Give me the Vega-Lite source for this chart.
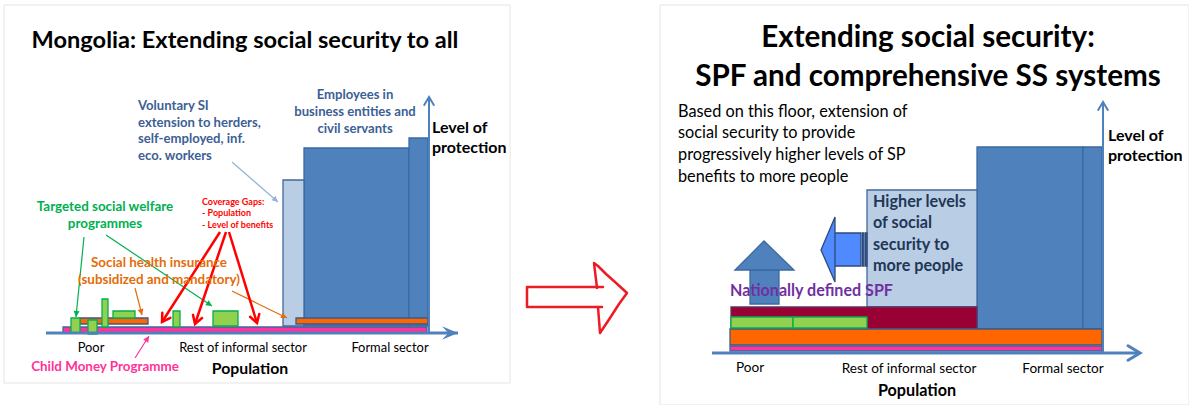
{
  "$schema": "https://vega.github.io/schema/vega-lite/v6.json",
  "width": 1189,
  "height": 405,
  "autosize": "none",
  "padding": 0,
  "background": "white",
  "config": {"view": {"stroke": null}, "font": "Lato"},
  "datasets": {
    "frames": [
      {"x": 4, "x2": 510, "y": 5, "y2": 383},
      {"x": 660, "x2": 1189, "y": 5, "y2": 405}
    ],
    "bars": [
      {"kind": "formal", "x": 304, "x2": 409, "y": 148, "y2": 326},
      {"kind": "formal", "x": 409, "x2": 428, "y": 138, "y2": 326},
      {"kind": "voluntary", "x": 283, "x2": 304, "y": 180, "y2": 326},
      {"kind": "child", "x": 63, "x2": 427, "y": 327, "y2": 333},
      {"kind": "health", "x": 80, "x2": 148, "y": 318, "y2": 324},
      {"kind": "health", "x": 296, "x2": 428, "y": 318, "y2": 324},
      {"kind": "welfare", "x": 71, "x2": 80, "y": 318, "y2": 333},
      {"kind": "welfare", "x": 88, "x2": 97, "y": 320, "y2": 334},
      {"kind": "welfare", "x": 102, "x2": 108, "y": 299, "y2": 327},
      {"kind": "welfare", "x": 113, "x2": 135, "y": 311, "y2": 318},
      {"kind": "welfare", "x": 173, "x2": 180, "y": 311, "y2": 327},
      {"kind": "welfare", "x": 213, "x2": 238, "y": 311, "y2": 326},
      {"kind": "formal", "x": 977, "x2": 1083, "y": 147, "y2": 329},
      {"kind": "formal", "x": 1083, "x2": 1102, "y": 147, "y2": 329},
      {"kind": "higher", "x": 867, "x2": 977, "y": 190, "y2": 307},
      {"kind": "spf", "x": 731, "x2": 977, "y": 307, "y2": 329},
      {"kind": "health", "x": 730, "x2": 1102, "y": 329, "y2": 345},
      {"kind": "child", "x": 730, "x2": 1102, "y": 346, "y2": 351},
      {"kind": "welfare", "x": 731, "x2": 793, "y": 317, "y2": 328},
      {"kind": "welfare", "x": 793, "x2": 867, "y": 317, "y2": 328},
      {"kind": "uparrow", "x": 750, "x2": 779, "y": 270, "y2": 304},
      {"kind": "leftarrow", "x": 834, "x2": 861, "y": 233, "y2": 266},
      {"kind": "leftarrow", "x": 862.5, "x2": 864, "y": 233, "y2": 266},
      {"kind": "leftarrow", "x": 865.5, "x2": 867, "y": 233, "y2": 266}
    ],
    "uphead": [
      {"x": 735, "y": 270, "y2": 270},
      {"x": 764, "y": 241, "y2": 270},
      {"x": 794, "y": 270, "y2": 270}
    ],
    "lefthead": [
      {"y": 217, "x": 835, "x2": 835},
      {"y": 250, "x": 821, "x2": 835},
      {"y": 282, "x": 835, "x2": 835}
    ],
    "lines": [
      {"kind": "axisL", "x": 46, "y": 333, "x2": 458, "y2": 333},
      {"kind": "yaxis", "x": 429, "y": 333, "x2": 429, "y2": 97},
      {"kind": "axisR", "x": 712, "y": 353, "x2": 1140, "y2": 353},
      {"kind": "yaxis", "x": 1103, "y": 353, "x2": 1103, "y2": 102},
      {"kind": "lightblue", "x": 232, "y": 162, "x2": 278, "y2": 202},
      {"kind": "green", "x": 84, "y": 237, "x2": 76, "y2": 317},
      {"kind": "green", "x": 106, "y": 235, "x2": 212, "y2": 306},
      {"kind": "orange", "x": 135, "y": 288, "x2": 142, "y2": 315},
      {"kind": "orange", "x": 232, "y": 291, "x2": 287, "y2": 318},
      {"kind": "pink", "x": 135, "y": 358, "x2": 149, "y2": 336},
      {"kind": "red", "x": 220, "y": 232, "x2": 162, "y2": 322},
      {"kind": "red", "x": 226, "y": 232, "x2": 195, "y2": 324},
      {"kind": "red", "x": 229, "y": 232, "x2": 257, "y2": 323}
    ],
    "redarrow": [
      {"seg": "a", "ord": 1, "x": 603, "y": 287},
      {"seg": "a", "ord": 2, "x": 527, "y": 287},
      {"seg": "a", "ord": 3, "x": 527, "y": 307},
      {"seg": "a", "ord": 4, "x": 602, "y": 307},
      {"seg": "b", "ord": 1, "x": 597, "y": 288},
      {"seg": "b", "ord": 2, "x": 594, "y": 263},
      {"seg": "b", "ord": 3, "x": 598, "y": 266},
      {"seg": "b", "ord": 4, "x": 606, "y": 274},
      {"seg": "b", "ord": 5, "x": 615, "y": 282},
      {"seg": "b", "ord": 6, "x": 627, "y": 293},
      {"seg": "b", "ord": 7, "x": 619, "y": 304},
      {"seg": "b", "ord": 8, "x": 610, "y": 318},
      {"seg": "b", "ord": 9, "x": 600, "y": 333},
      {"seg": "b", "ord": 10, "x": 598, "y": 307}
    ],
    "labels": [
      {"role": "titleL", "text": "Mongolia: Extending social security to all", "x": 245, "y": 41},
      {"role": "titleR", "text": "Extending social security:", "x": 928, "y": 38},
      {"role": "titleR", "text": "SPF and comprehensive SS systems", "x": 928, "y": 77},
      {"role": "employees", "text": "Employees in", "x": 355, "y": 95},
      {"role": "employees", "text": "business entities and", "x": 355, "y": 112},
      {"role": "employees", "text": "civil servants", "x": 355, "y": 129},
      {"role": "targeted", "text": "Targeted social welfare", "x": 105, "y": 207},
      {"role": "targeted", "text": "programmes", "x": 105, "y": 224},
      {"role": "health", "text": "Social health insurance", "x": 159, "y": 263},
      {"role": "health", "text": "(subsidized and mandatory)", "x": 159, "y": 280},
      {"role": "child", "text": "Child Money Programme", "x": 105, "y": 367},
      {"role": "populationL", "text": "Population", "x": 250, "y": 369},
      {"role": "populationR", "text": "Population", "x": 917, "y": 391},
      {"role": "voluntary", "text": "Voluntary SI", "x": 138, "y": 106},
      {"role": "voluntary", "text": "extension to herders,", "x": 138, "y": 123},
      {"role": "voluntary", "text": "self-employed, inf.", "x": 138, "y": 139},
      {"role": "voluntary", "text": "eco. workers", "x": 138, "y": 156},
      {"role": "level", "text": "Level of", "x": 432, "y": 128},
      {"role": "level", "text": "protection", "x": 432, "y": 148},
      {"role": "gaps", "text": "Coverage Gaps:", "x": 202, "y": 202},
      {"role": "gaps", "text": "- Population", "x": 202, "y": 213},
      {"role": "gaps", "text": "- Level of benefits", "x": 202, "y": 225},
      {"role": "higher", "text": "Higher levels", "x": 873, "y": 202},
      {"role": "higher", "text": "of social", "x": 873, "y": 223},
      {"role": "higher", "text": "security to", "x": 873, "y": 245},
      {"role": "higher", "text": "more people", "x": 873, "y": 266},
      {"role": "spf", "text": "Nationally defined SPF", "x": 730, "y": 291},
      {"role": "level", "text": "Level of", "x": 1108, "y": 136},
      {"role": "level", "text": "protection", "x": 1108, "y": 156},
      {"role": "sectorL", "text": "Poor", "x": 91, "y": 348},
      {"role": "sectorL", "text": "Rest of informal sector", "x": 243, "y": 348},
      {"role": "sectorL", "text": "Formal sector", "x": 390, "y": 348},
      {"role": "sectorR", "text": "Poor", "x": 750, "y": 368},
      {"role": "sectorR", "text": "Rest of informal sector", "x": 909, "y": 369},
      {"role": "sectorR", "text": "Formal sector", "x": 1063, "y": 369},
      {"role": "based", "text": "Based on this floor, extension of", "x": 678, "y": 112},
      {"role": "based", "text": "social security to provide", "x": 678, "y": 133},
      {"role": "based", "text": "progressively higher levels of SP", "x": 678, "y": 155},
      {"role": "based", "text": "benefits to more people", "x": 678, "y": 177}
    ]
  },
  "layer": [
    {
      "data": {"name": "frames"},
      "mark": {"type": "rect", "fill": null, "stroke": "#e4e4e4", "strokeWidth": 1},
      "encoding": {
        "x": {"field": "x", "type": "quantitative", "scale": {"domain": [0, 1189], "nice": false, "zero": false}, "axis": null},
        "x2": {"field": "x2"},
        "y": {"field": "y", "type": "quantitative", "scale": {"domain": [0, 405], "nice": false, "zero": false, "reverse": true}, "axis": null},
        "y2": {"field": "y2"}
      }
    },
    {
      "data": {"name": "bars"},
      "mark": {"type": "rect", "strokeWidth": 1.3},
      "encoding": {
        "x": {"field": "x", "type": "quantitative", "scale": {"domain": [0, 1189], "nice": false, "zero": false}, "axis": null},
        "x2": {"field": "x2"},
        "y": {"field": "y", "type": "quantitative", "scale": {"domain": [0, 405], "nice": false, "zero": false, "reverse": true}, "axis": null},
        "y2": {"field": "y2"},
        "fill": {"field": "kind", "type": "nominal", "legend": null,
          "scale": {"domain": ["formal", "voluntary", "higher", "child", "health", "welfare", "spf", "uparrow", "leftarrow"],
                    "range": ["#4F81BD", "#B9CDE5", "#B9CDE5", "#FF3399", "#FF6600", "#92D050", "#990033", "#4F81BD", "#4F8BFF"]}},
        "stroke": {"field": "kind", "type": "nominal", "legend": null,
          "scale": {"domain": ["formal", "voluntary", "higher", "child", "health", "welfare", "spf", "uparrow", "leftarrow"],
                    "range": ["#3B6AA0", "#41689C", "#41689C", "#3B6AA0", "#3B5A8A", "#00B050", "#5F3360", "#3B6AA0", "#2E4A78"]}}
      }
    },
    {
      "data": {"name": "uphead"},
      "mark": {"type": "area", "fill": "#4F81BD", "stroke": "#3B6AA0", "strokeWidth": 1.3, "orient": "vertical"},
      "encoding": {
        "x": {"field": "x", "type": "quantitative", "scale": {"domain": [0, 1189], "nice": false, "zero": false}, "axis": null},
        "y": {"field": "y", "type": "quantitative", "scale": {"domain": [0, 405], "nice": false, "zero": false, "reverse": true}, "axis": null},
        "y2": {"field": "y2"}
      }
    },
    {
      "data": {"name": "lefthead"},
      "mark": {"type": "area", "fill": "#4F8BFF", "stroke": "#2E4A78", "strokeWidth": 1.3, "orient": "horizontal"},
      "encoding": {
        "y": {"field": "y", "type": "quantitative", "scale": {"domain": [0, 405], "nice": false, "zero": false, "reverse": true}, "axis": null},
        "x": {"field": "x", "type": "quantitative", "scale": {"domain": [0, 1189], "nice": false, "zero": false}, "axis": null},
        "x2": {"field": "x2"}
      }
    },
    {
      "data": {"name": "lines"},
      "mark": {"type": "rule"},
      "encoding": {
        "x": {"field": "x", "type": "quantitative", "scale": {"domain": [0, 1189], "nice": false, "zero": false}, "axis": null},
        "x2": {"field": "x2"},
        "y": {"field": "y", "type": "quantitative", "scale": {"domain": [0, 405], "nice": false, "zero": false, "reverse": true}, "axis": null},
        "y2": {"field": "y2"},
        "color": {"field": "kind", "type": "nominal", "legend": null,
          "scale": {"domain": ["axisL", "yaxis", "axisR", "lightblue", "green", "orange", "pink", "red"],
                    "range": ["#4F81BD", "#4F81BD", "#4F81BD", "#95B3D7", "#00B050", "#E46C0A", "#FF3399", "#FF0000"]}},
        "strokeWidth": {"field": "kind", "type": "nominal", "legend": null,
          "scale": {"type": "ordinal", "domain": ["axisL", "yaxis", "axisR", "lightblue", "green", "orange", "pink", "red"],
                    "range": [3, 2, 3, 1.2, 1.2, 1.2, 1.2, 2.5]}}
      }
    },
    {
      "data": {"name": "lines"},
      "transform": [
        {"filter": {"field": "kind", "oneOf": ["axisL", "lightblue", "green", "orange", "pink"]}},
        {"calculate": "atan2(datum.x2 - datum.x, datum.y - datum.y2) * 180 / PI", "as": "angle"}
      ],
      "mark": {"type": "point", "filled": true, "opacity": 1, "strokeWidth": 0},
      "encoding": {
        "x": {"field": "x2", "type": "quantitative", "scale": {"domain": [0, 1189], "nice": false, "zero": false}, "axis": null},
        "y": {"field": "y2", "type": "quantitative", "scale": {"domain": [0, 405], "nice": false, "zero": false, "reverse": true}, "axis": null},
        "angle": {"field": "angle", "type": "quantitative", "scale": null},
        "shape": {"field": "kind", "type": "nominal", "legend": null,
          "scale": {"domain": ["axisL", "lightblue", "green", "orange", "pink"],
                    "range": ["M0,0L-0.42,1L0,0.6L0.42,1Z", "M0,0L-0.5,1L0.5,1Z", "M0,0L-0.5,1L0.5,1Z", "M0,0L-0.5,1L0.5,1Z", "M0,0L-0.5,1L0.5,1Z"]}},
        "size": {"field": "kind", "type": "nominal", "legend": null,
          "scale": {"type": "ordinal", "domain": ["axisL", "lightblue", "green", "orange", "pink"], "range": [1024, 144, 144, 144, 144]}},
        "color": {"field": "kind", "type": "nominal", "legend": null,
          "scale": {"domain": ["axisL", "lightblue", "green", "orange", "pink"],
                    "range": ["#4F81BD", "#95B3D7", "#00B050", "#E46C0A", "#FF3399"]}}
      }
    },
    {
      "data": {"name": "lines"},
      "transform": [
        {"filter": {"field": "kind", "oneOf": ["red", "yaxis", "axisR"]}},
        {"calculate": "atan2(datum.x2 - datum.x, datum.y - datum.y2) * 180 / PI", "as": "angle"}
      ],
      "mark": {"type": "point", "filled": false, "opacity": 1, "shape": "M-0.6,1L0,0L0.6,1", "strokeCap": "round", "strokeJoin": "miter"},
      "encoding": {
        "x": {"field": "x2", "type": "quantitative", "scale": {"domain": [0, 1189], "nice": false, "zero": false}, "axis": null},
        "y": {"field": "y2", "type": "quantitative", "scale": {"domain": [0, 405], "nice": false, "zero": false, "reverse": true}, "axis": null},
        "angle": {"field": "angle", "type": "quantitative", "scale": null},
        "size": {"field": "kind", "type": "nominal", "legend": null,
          "scale": {"type": "ordinal", "domain": ["red", "yaxis", "axisR"], "range": [256, 256, 576]}},
        "strokeWidth": {"field": "kind", "type": "nominal", "legend": null,
          "scale": {"type": "ordinal", "domain": ["red", "yaxis", "axisR"], "range": [2.5, 2, 3]}},
        "color": {"field": "kind", "type": "nominal", "legend": null,
          "scale": {"domain": ["red", "yaxis", "axisR"], "range": ["#FF0000", "#4F81BD", "#4F81BD"]}}
      }
    },
    {
      "data": {"name": "redarrow"},
      "mark": {"type": "line", "color": "#ED1C24", "strokeWidth": 2.5, "strokeJoin": "round", "strokeCap": "round", "interpolate": "linear"},
      "encoding": {
        "x": {"field": "x", "type": "quantitative", "scale": {"domain": [0, 1189], "nice": false, "zero": false}, "axis": null},
        "y": {"field": "y", "type": "quantitative", "scale": {"domain": [0, 405], "nice": false, "zero": false, "reverse": true}, "axis": null},
        "detail": {"field": "seg", "type": "nominal"},
        "order": {"field": "ord", "type": "quantitative"}
      }
    },
    {
      "data": {"name": "labels"},
      "transform": [{"filter": {"field": "role", "oneOf": ["titleL", "titleR", "employees", "targeted", "health", "child", "populationL", "populationR"]}}],
      "mark": {"type": "text", "fontWeight": "bold", "align": "center", "baseline": "middle", "font": "Lato"},
      "encoding": {
        "x": {"field": "x", "type": "quantitative", "scale": {"domain": [0, 1189], "nice": false, "zero": false}, "axis": null},
        "y": {"field": "y", "type": "quantitative", "scale": {"domain": [0, 405], "nice": false, "zero": false, "reverse": true}, "axis": null},
        "text": {"field": "text"},
        "color": {"field": "role", "type": "nominal", "legend": null,
          "scale": {"domain": ["titleL", "titleR", "employees", "targeted", "health", "child", "populationL", "populationR"],
                    "range": ["#000000", "#000000", "#3C6096", "#00B050", "#E46C0A", "#FF3399", "#000000", "#000000"]}},
        "size": {"field": "role", "type": "nominal", "legend": null,
          "scale": {"type": "ordinal", "domain": ["titleL", "titleR", "employees", "targeted", "health", "child", "populationL", "populationR"],
                    "range": [23.6, 29.6, 13.1, 13.4, 13.4, 13.4, 15.8, 16.2]}}
      }
    },
    {
      "data": {"name": "labels"},
      "transform": [{"filter": {"field": "role", "oneOf": ["voluntary", "level", "gaps", "higher", "spf"]}}],
      "mark": {"type": "text", "fontWeight": "bold", "align": "left", "baseline": "middle", "font": "Lato"},
      "encoding": {
        "x": {"field": "x", "type": "quantitative", "scale": {"domain": [0, 1189], "nice": false, "zero": false}, "axis": null},
        "y": {"field": "y", "type": "quantitative", "scale": {"domain": [0, 405], "nice": false, "zero": false, "reverse": true}, "axis": null},
        "text": {"field": "text"},
        "color": {"field": "role", "type": "nominal", "legend": null,
          "scale": {"domain": ["voluntary", "level", "gaps", "higher", "spf"],
                    "range": ["#3C6096", "#000000", "#FF0000", "#1F3756", "#7030A0"]}},
        "size": {"field": "role", "type": "nominal", "legend": null,
          "scale": {"type": "ordinal", "domain": ["voluntary", "level", "gaps", "higher", "spf"],
                    "range": [13.1, 16, 9, 16.2, 16.1]}}
      }
    },
    {
      "data": {"name": "labels"},
      "transform": [{"filter": {"field": "role", "oneOf": ["sectorL", "sectorR"]}}],
      "mark": {"type": "text", "align": "center", "baseline": "middle", "font": "Lato", "color": "#000000"},
      "encoding": {
        "x": {"field": "x", "type": "quantitative", "scale": {"domain": [0, 1189], "nice": false, "zero": false}, "axis": null},
        "y": {"field": "y", "type": "quantitative", "scale": {"domain": [0, 405], "nice": false, "zero": false, "reverse": true}, "axis": null},
        "text": {"field": "text"},
        "size": {"field": "role", "type": "nominal", "legend": null,
          "scale": {"type": "ordinal", "domain": ["sectorL", "sectorR"], "range": [12.9, 13.6]}}
      }
    },
    {
      "data": {"name": "labels"},
      "transform": [{"filter": {"field": "role", "equal": "based"}}],
      "mark": {"type": "text", "align": "left", "baseline": "middle", "font": "Lato", "fontSize": 16.3, "color": "#000000"},
      "encoding": {
        "x": {"field": "x", "type": "quantitative", "scale": {"domain": [0, 1189], "nice": false, "zero": false}, "axis": null},
        "y": {"field": "y", "type": "quantitative", "scale": {"domain": [0, 405], "nice": false, "zero": false, "reverse": true}, "axis": null},
        "text": {"field": "text"}
      }
    }
  ],
  "resolve": {"scale": {"fill": "independent", "stroke": "independent", "color": "independent", "size": "independent", "strokeWidth": "independent", "shape": "independent"}}
}
